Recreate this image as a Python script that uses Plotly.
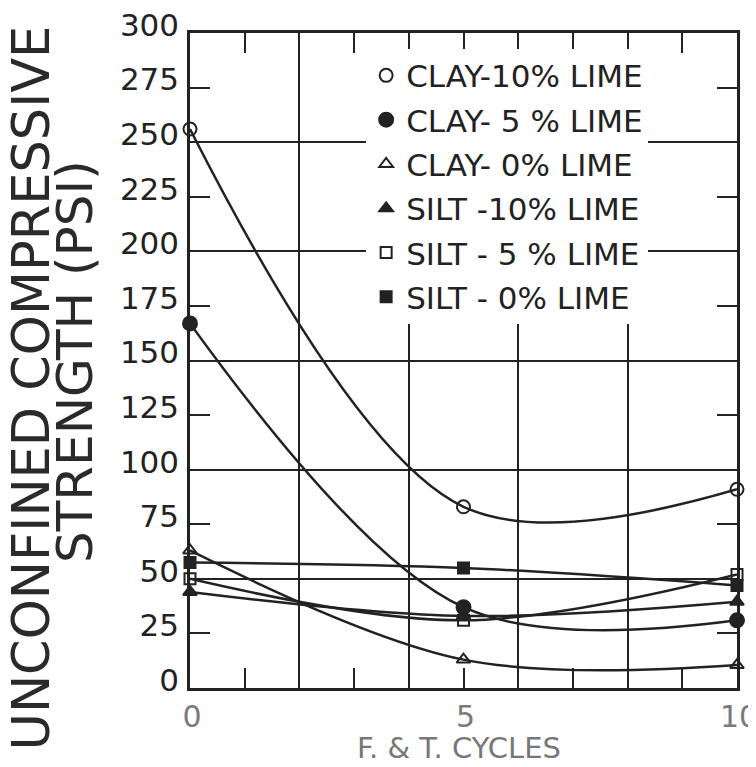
import plotly.graph_objects as go

# ---- data ----
cycles = [0, 5, 10]
series_names = [
    "CLAY-10% LIME",
    "CLAY- 5 % LIME",
    "CLAY- 0% LIME",
    "SILT -10% LIME",
    "SILT - 5 % LIME",
    "SILT - 0% LIME",
]
clay_10 = [256, 83, 91]
clay_5 = [167, 37, 31]
clay_0 = [63, 13, 10.5]
silt_10 = [44, 33, 39.5]
silt_5 = [50, 31, 52]
silt_0 = [57.5, 55, 47]

x_tick_vals = [0, 1, 3, 5, 7, 9, 10]
x_tick_text = ["0", "", "", "5", "", "", "10"]
y_tick_vals = [0, 25, 50, 75, 100, 125, 150, 175, 200, 225, 250, 275, 300]
y_tick_text = [str(v) for v in y_tick_vals]

# ---- styles ----
INK = "#222222"
symbols = ["circle-open", "circle", "triangle-up-open", "triangle-up", "square-open", "square"]
sizes = [13, 14, 12, 12, 11, 11]
all_series = [clay_10, clay_5, clay_0, silt_10, silt_5, silt_0]

fig = go.Figure()

# smooth curves
for vals in all_series:
    fig.add_trace(go.Scatter(
        x=cycles, y=vals, mode="lines",
        line=dict(color=INK, width=2.5, shape="spline", smoothing=1.0),
        showlegend=False, hoverinfo="skip",
    ))

# markers (legend entries show markers only)
for i, (name, vals, sym, sz) in enumerate(zip(series_names, all_series, symbols, sizes)):
    fig.add_trace(go.Scatter(
        x=cycles, y=vals, mode="markers", name=name, legendgroup=f"g{i}",
        marker=dict(symbol=sym, size=sz, color=INK, line=dict(color=INK, width=2)),
        cliponaxis=False,
    ))

# empty trace to carry the overlay axis used for the 50-unit grid
fig.add_trace(go.Scatter(x=[], y=[], yaxis="y2", showlegend=False, hoverinfo="skip"))

fig.update_layout(
    width=748, height=759,
    margin=dict(l=182, r=19, t=25, b=79, autoexpand=False),
    paper_bgcolor="white", plot_bgcolor="white",
    font=dict(family="DejaVu Sans", color=INK),
    showlegend=True,
    legend=dict(
        x=0.322, y=0.976, xanchor="left", yanchor="top",
        bgcolor="white", borderwidth=0,
        font=dict(family="DejaVu Sans", size=31, color=INK),
        itemwidth=30, itemsizing="trace",
        traceorder="grouped", tracegroupgap=1,
    ),
    xaxis=dict(
        range=[0, 10], showline=True, linecolor=INK, linewidth=2.5, mirror="ticks",
        ticks="inside", ticklen=20, tickwidth=2, tickcolor=INK,
        tickvals=x_tick_vals, ticktext=x_tick_text,
        tickfont=dict(family="DejaVu Sans", size=30, color="#7a7a7a"),
        ticklabeloverflow="allow", ticklabelshift=2,
        showgrid=False, zeroline=False, automargin=False,
        minor=dict(dtick=2, tick0=0, showgrid=True, gridcolor=INK, gridwidth=2, ticks=""),
    ),
    yaxis=dict(
        range=[0, 300], showline=True, linecolor=INK, linewidth=2.5, mirror="ticks",
        ticks="inside", ticklen=20, tickwidth=2, tickcolor=INK,
        tickvals=y_tick_vals, ticktext=y_tick_text,
        tickfont=dict(family="DejaVu Sans", size=31, color=INK),
        ticklabeloverflow="allow", ticklabelshift=-8, ticklabelstandoff=2,
        showgrid=False, zeroline=False, automargin=False,
    ),
    yaxis2=dict(
        range=[0, 300], overlaying="y", side="left", dtick=50, tick0=0,
        showgrid=True, gridcolor=INK, gridwidth=2, automargin=False,
        showticklabels=False, ticks="", showline=False, zeroline=False,
    ),
    annotations=[
        dict(text="UNCONFINED COMPRESSIVE", textangle=-90, xref="paper", yref="paper",
             x=-0.29, y=0.458, xanchor="center", yanchor="middle", showarrow=False,
             font=dict(family="DejaVu Sans", size=51, color="#2a2a2a")),
        dict(text="STRENGTH (PSI)", textangle=-90, xref="paper", yref="paper",
             x=-0.21, y=0.498, xanchor="center", yanchor="middle", showarrow=False,
             font=dict(family="DejaVu Sans", size=50, color="#2a2a2a")),
        dict(text="F. & T. CYCLES", xref="paper", yref="paper",
             x=0.492, y=-0.092, xanchor="center", yanchor="middle", showarrow=False,
             font=dict(family="DejaVu Sans", size=29, color="#777777")),
    ],
)

fig.write_html("out.html")
